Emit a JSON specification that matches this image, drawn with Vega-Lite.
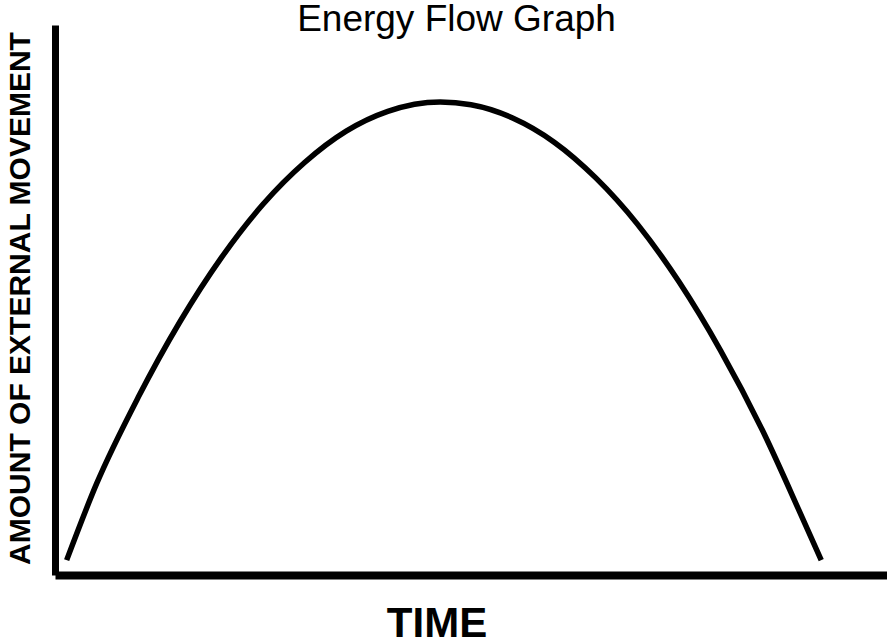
{
  "$schema": "https://vega.github.io/schema/vega-lite/v6.json",
  "width": 832,
  "height": 550,
  "autosize": {"type": "none"},
  "padding": {"left": 55, "top": 25, "right": 0, "bottom": 68},
  "background": "white",
  "config": {"view": {"stroke": null}},
  "title": {
    "text": "Energy Flow Graph",
    "font": "Liberation Sans",
    "fontSize": 37,
    "fontWeight": "normal",
    "color": "black",
    "anchor": "middle",
    "frame": "group",
    "baseline": "alphabetic",
    "offset": 0,
    "dx": -14.5,
    "dy": 43
  },
  "data": {
    "values": [
      {"time": 1.4, "movement": 2.7},
      {"time": 5, "movement": 16.6},
      {"time": 10, "movement": 32.3},
      {"time": 15, "movement": 46.0},
      {"time": 20, "movement": 57.7},
      {"time": 25, "movement": 67.4},
      {"time": 30, "movement": 75.0},
      {"time": 35, "movement": 80.7},
      {"time": 40, "movement": 84.3},
      {"time": 46.3, "movement": 86.0},
      {"time": 50, "movement": 85.5},
      {"time": 55, "movement": 83.1},
      {"time": 60, "movement": 78.7},
      {"time": 65, "movement": 72.2},
      {"time": 70, "movement": 63.8},
      {"time": 75, "movement": 53.3},
      {"time": 80, "movement": 40.8},
      {"time": 85, "movement": 26.4},
      {"time": 90, "movement": 9.8},
      {"time": 92.1, "movement": 2.7}
    ]
  },
  "mark": {"type": "line", "color": "black", "strokeWidth": 5.5, "interpolate": "monotone", "strokeCap": "butt"},
  "encoding": {
    "x": {
      "field": "time",
      "type": "quantitative",
      "scale": {"domain": [0, 100], "nice": false, "zero": false},
      "axis": {
        "title": "TIME",
        "domain": true,
        "domainColor": "black",
        "domainWidth": 8,
        "domainCap": "butt",
        "ticks": false,
        "labels": false,
        "grid": false,
        "titleFont": "Liberation Sans",
        "titleFontSize": 42,
        "titleFontWeight": "bold",
        "titleColor": "black",
        "titleX": 381.5,
        "titleY": 61,
        "titleAlign": "center",
        "titleBaseline": "alphabetic"
      }
    },
    "y": {
      "field": "movement",
      "type": "quantitative",
      "scale": {"domain": [0, 100], "nice": false, "zero": false},
      "axis": {
        "title": "AMOUNT OF EXTERNAL MOVEMENT",
        "domain": true,
        "domainColor": "black",
        "domainWidth": 7,
        "domainCap": "butt",
        "ticks": false,
        "labels": false,
        "grid": false,
        "titleFont": "Liberation Sans",
        "titleFontSize": 30,
        "titleFontWeight": "bold",
        "titleColor": "black",
        "titleAngle": -90,
        "titleX": -25.5,
        "titleY": 273,
        "titleAlign": "center",
        "titleBaseline": "alphabetic"
      }
    }
  }
}
